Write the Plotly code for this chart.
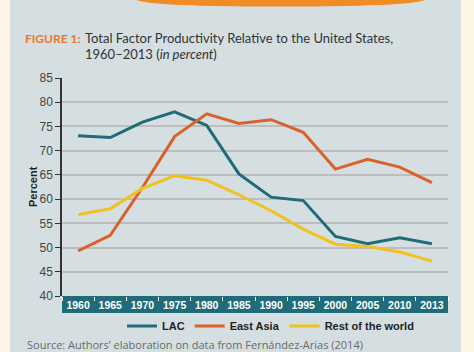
import plotly.graph_objects as go

years = ["1960", "1965", "1970", "1975", "1980", "1985", "1990", "1995", "2000", "2005", "2010", "2013"]
lac = [73.1, 72.7, 75.9, 78.0, 75.2, 65.2, 60.4, 59.7, 52.3, 50.8, 52.0, 50.8]
east_asia = [49.3, 52.5, 62.4, 72.9, 77.6, 75.6, 76.4, 73.8, 66.2, 68.2, 66.6, 63.4]
rest_world = [56.8, 58.0, 62.2, 64.8, 63.9, 60.9, 57.6, 53.8, 50.7, 50.2, 49.1, 47.2]

W, H = 474, 352
L, R, T, B = 62, 448, 78, 296
pw, ph = R - L, B - T


def px(x):
    return (x - L) / pw


def py(y):
    return (B - y) / ph


TEAL = "#1f6c78"
ORANGE = "#d9622b"
YELLOW = "#f2c21c"
PANEL = "#d5dfe2"
CREAM = "#fdf5e4"
NARROW = "Liberation Sans, Arial, sans-serif"

fig = go.Figure()
for name, vals, col in [("LAC", lac, TEAL), ("East Asia", east_asia, ORANGE), ("Rest of the world", rest_world, YELLOW)]:
    fig.add_trace(go.Scatter(x=years, y=vals, mode="lines", name=name,
                             line=dict(color=col, width=3)))

shapes = [
    dict(type="rect", xref="paper", yref="paper", x0=px(10), x1=px(461), y0=py(352), y1=py(0),
         fillcolor=PANEL, line=dict(width=0), layer="below"),
    dict(type="path", xref="paper", yref="paper",
         path=f"M {px(137)},{py(0)} L {px(425)},{py(0)} Q {px(410)},{py(6)} {px(300)},{py(6.5)} "
              f"L {px(260)},{py(6.5)} Q {px(150)},{py(6)} {px(137)},{py(0)} Z",
         fillcolor="#ef8d24", line=dict(width=0), layer="below"),
    dict(type="rect", xref="paper", yref="paper", x0=0, x1=1, y0=py(313), y1=0,
         fillcolor=TEAL, line=dict(width=0), layer="below"),
]

annotations = [
    dict(x=px(23), y=py(38), xref="paper", yref="paper", xanchor="left", yanchor="middle",
         text="<b>FIGURE 1:</b>", showarrow=False,
         font=dict(family="Lato, sans-serif", size=12, color="#e8772e")),
    dict(x=px(83), y=py(38), xref="paper", yref="paper", xanchor="left", yanchor="middle",
         text="Total Factor Productivity Relative to the United States,", showarrow=False,
         font=dict(family="Lato, sans-serif", size=13, color="#333333")),
    dict(x=px(83), y=py(54), xref="paper", yref="paper", xanchor="left", yanchor="middle",
         text="1960–2013 (<i>in percent</i>)", showarrow=False,
         font=dict(family="Lato, sans-serif", size=13, color="#333333")),
    dict(x=px(25), y=py(344), xref="paper", yref="paper", xanchor="left", yanchor="middle",
         text="Source: Authors’ elaboration on data from Fernández-Arias (2014)", showarrow=False,
         font=dict(family="Open Sans, sans-serif", size=11, color="#6a6a6a")),
    dict(x=px(33), y=py(187), xref="paper", yref="paper", xanchor="center", yanchor="middle",
         text="<b>Percent</b>", textangle=-90, showarrow=False,
         font=dict(family=NARROW, size=11, color="#222222")),
]

fig.update_layout(
    width=W, height=H,
    margin=dict(l=L, r=W - R, t=T, b=H - B),
    paper_bgcolor=CREAM, plot_bgcolor="white",
    shapes=shapes, annotations=annotations,
    showlegend=True,
    legend=dict(orientation="h", x=px(122), y=py(326), xanchor="left", yanchor="middle",
                bgcolor="rgba(0,0,0,0)",
                font=dict(family=NARROW, size=11, color="#222222", weight="bold"),
                itemwidth=30, tracegroupgap=0),
    xaxis=dict(type="category", showgrid=False, zeroline=False, showline=False,
               ticks="outside", tickson="boundaries", ticklen=4, tickcolor="white", tickwidth=1,
               tickangle=0,
               tickfont=dict(family=NARROW, size=10.5, color="white", weight="bold"), ticklabelstandoff=1,
               range=[-0.5, 11.5], fixedrange=True),
    yaxis=dict(range=[40, 85], dtick=5, tick0=40, showgrid=True, gridcolor="#bdbdbd", gridwidth=1.5,
               zeroline=False, showline=True, linecolor="#333333", linewidth=1.5,
               ticks="outside", ticklen=5, tickcolor="#333333",
               tickfont=dict(family=NARROW, size=12, color="#444444"), fixedrange=True),
)

fig.write_html("out.html")
